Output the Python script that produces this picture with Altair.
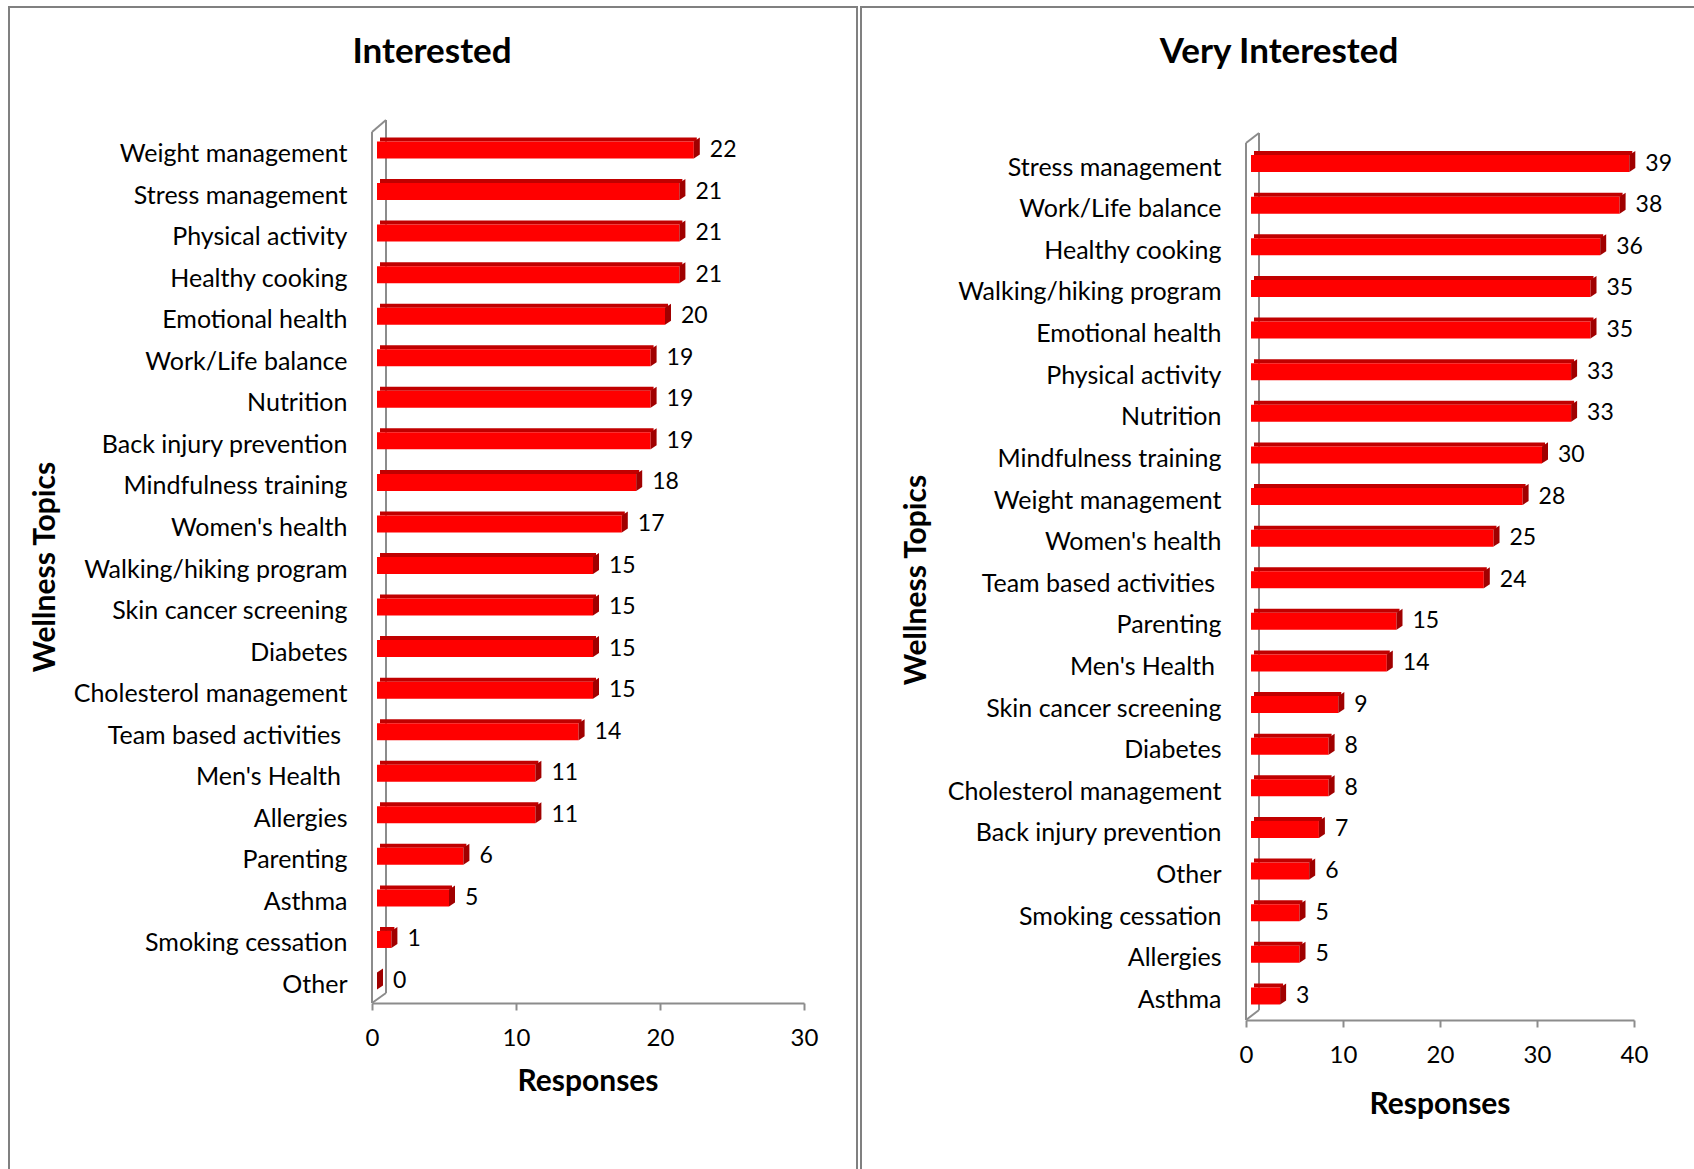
import altair as alt
import pandas as pd

# Survey responses: wellness topics rated "Interested" and "Very Interested"
interested_topics = [
    "Weight management", "Stress management", "Physical activity", "Healthy cooking",
    "Emotional health", "Work/Life balance", "Nutrition", "Back injury prevention",
    "Mindfulness training", "Women's health", "Walking/hiking program",
    "Skin cancer screening", "Diabetes", "Cholesterol management",
    "Team based activities", "Men's Health", "Allergies", "Parenting",
    "Asthma", "Smoking cessation", "Other",
]
interested_counts = [22, 21, 21, 21, 20, 19, 19, 19, 18, 17, 15, 15, 15, 15, 14, 11, 11, 6, 5, 1, 0]

very_topics = [
    "Stress management", "Work/Life balance", "Healthy cooking", "Walking/hiking program",
    "Emotional health", "Physical activity", "Nutrition", "Mindfulness training",
    "Weight management", "Women's health", "Team based activities", "Parenting",
    "Men's Health", "Skin cancer screening", "Diabetes", "Cholesterol management",
    "Back injury prevention", "Other", "Smoking cessation", "Allergies", "Asthma",
]
very_counts = [39, 38, 36, 35, 35, 33, 33, 30, 28, 25, 24, 15, 14, 9, 8, 8, 7, 6, 5, 5, 3]

interested_ticks = [0, 10, 20, 30]
very_ticks = [0, 10, 20, 30, 40]

W, H = 1694, 1169
FONT = "Lato"
RED = "#FF0000"
TOP = "#C00000"
SIDE = "#A00000"
GREY = "#8C8C8C"
FRAME = "#808080"
CAT_SIZE = 25
TICK_SIZE = 24
VALUE_SIZE = 23

one_row = pd.DataFrame({"k": [0]})

# right-hand face of a 3D bar, in symbol units (1 unit = 12 px at size 576)
SIDE_PATH = "M0,-0.708L0.5,-1.042L0.5,0.375L0,0.708Z"

# these two source labels carry a trailing blank, so they sit a little further left
TRAILING_BLANK = "datum.value == 'Team based activities' || datum.value == \"Men's Health\""


def panel(topics, counts, ticks, x_range, y_range, x_axis_y, y_axis_x):
    df = pd.DataFrame({"topic": topics, "count": counts})
    x = alt.X(
        "count:Q",
        scale=alt.Scale(domain=[ticks[0], ticks[-1]], range=x_range, nice=False),
        axis=alt.Axis(
            orient="bottom", offset=x_axis_y - H, values=ticks, title=None,
            grid=False, domainColor=GREY, domainWidth=2, tickColor=GREY,
            tickWidth=2, tickSize=7, labelFont=FONT, labelFontSize=TICK_SIZE,
            labelColor="black", labelPadding=16, labelFlush=False, zindex=1,
        ),
    )
    y = alt.Y(
        "topic:N",
        sort=topics,
        scale=alt.Scale(domain=topics, range=y_range, paddingInner=0, paddingOuter=0),
        axis=alt.Axis(
            orient="left", offset=-y_axis_x, title=None, domain=False, ticks=False,
            grid=False, labelFont=FONT, labelFontSize=CAT_SIZE, labelColor="black",
            labelPadding=alt.condition(TRAILING_BLANK, alt.value(31.5), alt.value(25)),
            labelOffset=4, labelLimit=500, zindex=1,
        ),
    )
    base = alt.Chart(df).encode(x=x, y=y)
    top_face = base.mark_bar(height=4, yOffset=-10.5, xOffset=8, x2Offset=8, color=TOP)
    front_face = base.mark_bar(height=17, xOffset=5, x2Offset=5, color=RED)
    side_face = base.mark_point(
        shape=SIDE_PATH, size=576, filled=True, opacity=1, strokeWidth=0,
        xOffset=5, color=SIDE,
    )
    values = base.mark_text(
        align="left", baseline="middle", dx=21, font=FONT, fontSize=VALUE_SIZE,
        color="black",
    ).encode(text="count:Q")
    return alt.layer(top_face, front_face, side_face, values)


def seg(x1, y1, x2, y2, color=GREY, width=2):
    return alt.Chart(one_row).mark_rule(color=color, strokeWidth=width).encode(
        x=alt.value(x1), y=alt.value(y1), x2=alt.value(x2), y2=alt.value(y2)
    )


def frame(x1, y1, x2, y2):
    return alt.Chart(one_row).mark_rect(
        fillOpacity=0, stroke=FRAME, strokeWidth=2
    ).encode(x=alt.value(x1), y=alt.value(y1), x2=alt.value(x2), y2=alt.value(y2))


def label(text, x, y, size, angle=0):
    return alt.Chart(one_row).mark_text(
        text=text, font=FONT, fontSize=size, fontWeight="bold", color="black",
        align="center", baseline="middle", angle=angle,
    ).encode(x=alt.value(x), y=alt.value(y))


# chart frames
frames = [frame(9, 7, 857, 1250), frame(861, 7, 1760, 1250)]

# back walls and floor edges of the two 3D plots
walls = [
    seg(372, 132, 372, 1003), seg(386, 120, 386, 993),
    seg(372, 132, 386, 120), seg(386, 993, 372, 1003),
    seg(1246, 143, 1246, 1020), seg(1259, 133, 1259, 1010),
    seg(1246, 143, 1259, 133), seg(1259, 1010, 1246, 1020),
]

left = panel(interested_topics, interested_counts, interested_ticks,
             [372, 804], [129.2, 1001.8], 1003, 372)
right = panel(very_topics, very_counts, very_ticks,
              [1246, 1634], [142.7, 1016.8], 1020, 1246)

titles = [
    label("Interested", 432, 52, 35),
    label("Very Interested", 1279, 52, 35),
    label("Wellness Topics", 46, 567, 30, angle=270),
    label("Wellness Topics", 917, 580, 30, angle=270),
    label("Responses", 588, 1082, 30),
    label("Responses", 1440, 1105, 30),
]

chart = alt.layer(*frames, *walls, left, right, *titles).resolve_scale(
    x="independent", y="independent"
).resolve_axis(x="independent", y="independent").properties(
    width=W, height=H, autosize="none", padding=0, background="white"
).configure_view(stroke=None)

chart.save("out.html", embed_options={"renderer": "svg", "actions": False})
